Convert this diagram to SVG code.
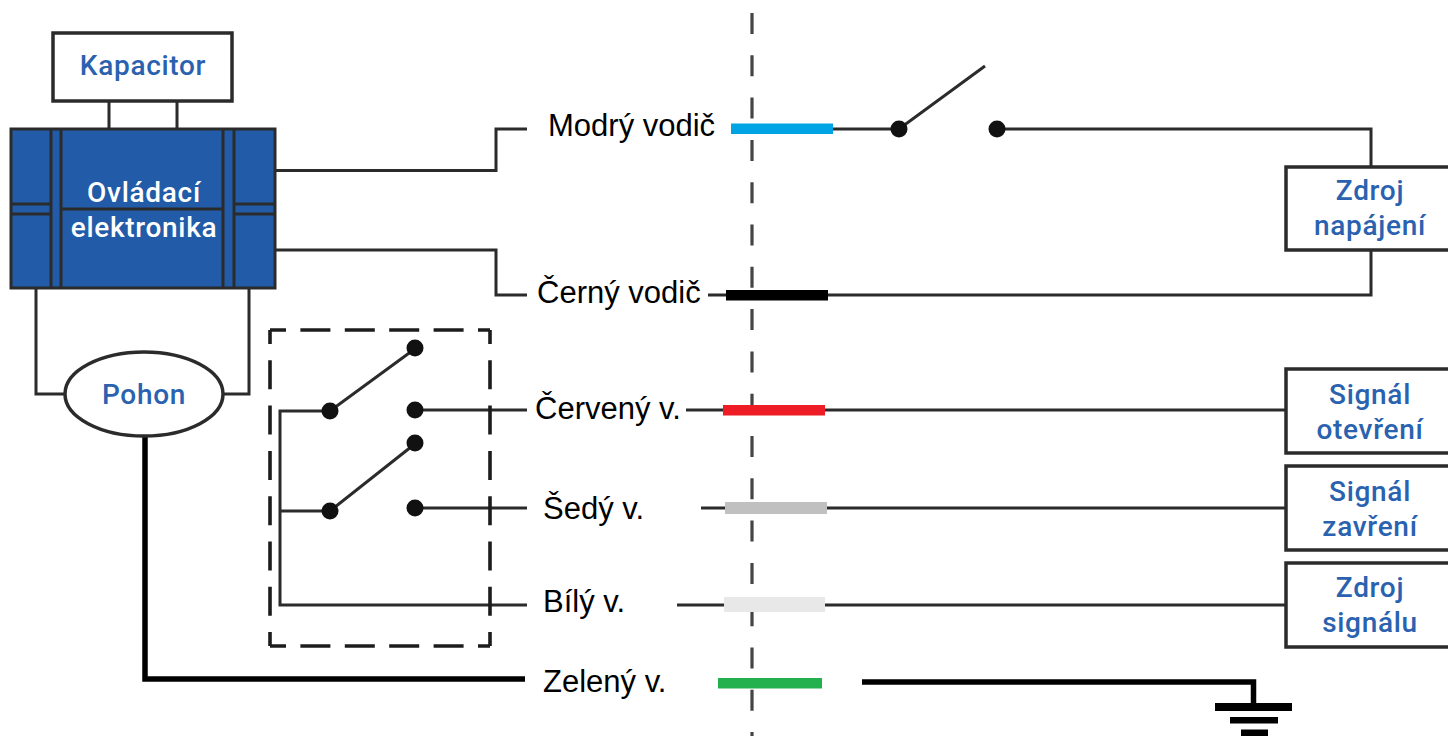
<svg xmlns="http://www.w3.org/2000/svg" width="1448" height="736" viewBox="0 0 1448 736">
<style>
.w{fill:none;stroke:#2b2b2b;stroke-width:3}
.t{fill:none;stroke:#000;stroke-width:5.5}
.box{fill:#fff;stroke:#2b2b2b;stroke-width:3.5}
.d{fill:#111}
.lbl{font-family:"Liberation Sans",Arial,sans-serif;font-size:31px;fill:#000}
.bt,.wt{font-family:Roboto,"Noto Sans",sans-serif;font-size:28px;font-weight:500;text-anchor:middle;letter-spacing:.7px}
.bt{fill:#2a62b0}
.wt{fill:#fff}
.axis{fill:none;stroke:#444;stroke-width:3.2;stroke-dasharray:21 21.3}
.dh{fill:none;stroke:#1c1c1c;stroke-width:3.6;stroke-dasharray:30 14.4;stroke-dashoffset:14}
.dv{fill:none;stroke:#1c1c1c;stroke-width:3.6;stroke-dasharray:29 16.3;stroke-dashoffset:15}
</style>
<g id="connectors">
<path class="axis" d="M752 13V736"/>
<path class="w" d="M109 101V129M177 101V129"/>
<path class="w" d="M276 170.500H496V129H527"/>
<path class="w" d="M276 250H496V295H527"/>
<path class="w" d="M36 288V394H65M249 288V394H222"/>
<path class="w" d="M833 129H899L985 66M997 129H1371V167"/>
<path class="w" d="M708 295H1371V250"/>
<path class="w" d="M416 348L330 411H280V605H527M280 511H330L416 443M416 410H527M416 508H527"/>
<path class="w" d="M686 410H1286M701 508H1286M677 605H1286"/>
<path class="t" d="M145 436V679H525"/>
<path class="t" d="M862 682H1253.500V705"/>
<path class="dh" d="M270 330H490M270 646H490"/>
<path class="dv" d="M270 330V646M490 330V646"/>
</g>
<g id="wire-bars">
<rect x="731" y="123.500" width="102" height="10.500" fill="#00a4e4"/>
<rect x="726" y="290" width="102" height="10.500" fill="#000"/>
<rect x="723" y="405" width="102" height="10.500" fill="#ee1c25"/>
<rect x="725" y="502" width="102" height="12" fill="#c0c0c0"/>
<rect x="724" y="597" width="101" height="15" fill="#e8e8e8"/>
<rect x="718" y="678" width="104" height="10.500" fill="#22b14c"/>
</g>
<g id="ground" fill="#000">
<rect x="1215" y="703" width="77" height="8"/>
<rect x="1230" y="717" width="48" height="6.500"/>
<rect x="1241" y="729.500" width="27" height="6.500"/>
</g>
<g id="switch-dots">
<circle class="d" cx="899" cy="129" r="8.500"/><circle class="d" cx="997" cy="129" r="8.500"/>
<circle class="d" cx="415" cy="348" r="8.500"/><circle class="d" cx="330" cy="411" r="8.500"/><circle class="d" cx="415" cy="410" r="8.500"/>
<circle class="d" cx="415" cy="443" r="8.500"/><circle class="d" cx="330" cy="511" r="8.500"/><circle class="d" cx="415" cy="508" r="8.500"/>
</g>
<g id="kapacitor"><rect class="box" x="53" y="33" width="179" height="68"/><text class="bt" x="143" y="75">Kapacitor</text></g>
<g id="ovladaci-elektronika">
<rect x="11" y="129" width="264" height="159" fill="#225ca8" stroke="#2b2b2b" stroke-width="3"/>
<path class="w" d="M51 129V288M61 129V288M223 129V288M234 129V288M11 204H51M11 214H51M234 204H275M234 214H275M61 209H223"/>
<text class="wt" x="144" y="202">Ovládací</text><text class="wt" x="144" y="237">elektronika</text>
</g>
<g id="pohon"><ellipse cx="144" cy="394" rx="79" ry="42" fill="#fff" stroke="#2b2b2b" stroke-width="3.500"/><text class="bt" x="144" y="404">Pohon</text></g>
<g id="zdroj-napajeni"><rect class="box" x="1286" y="167" width="170" height="83"/><text class="bt" x="1370" y="200">Zdroj</text><text class="bt" x="1370" y="235">napájení</text></g>
<g id="signal-otevreni"><rect class="box" x="1286" y="369" width="170" height="84"/><text class="bt" x="1370" y="404">Signál</text><text class="bt" x="1370" y="439">otevření</text></g>
<g id="signal-zavreni"><rect class="box" x="1286" y="466" width="170" height="84"/><text class="bt" x="1370" y="501">Signál</text><text class="bt" x="1370" y="536">zavření</text></g>
<g id="zdroj-signalu"><rect class="box" x="1286" y="563" width="170" height="84"/><text class="bt" x="1370" y="597">Zdroj</text><text class="bt" x="1370" y="632">signálu</text></g>
<g id="labels">
<text class="lbl" x="548" y="136">Modrý vodič</text>
<text class="lbl" x="537" y="303">Černý vodič</text>
<text class="lbl" x="535" y="419">Červený v.</text>
<text class="lbl" x="543" y="519">Šedý v.</text>
<text class="lbl" x="543" y="612">Bílý v.</text>
<text class="lbl" x="543" y="692">Zelený v.</text>
</g>
</svg>
